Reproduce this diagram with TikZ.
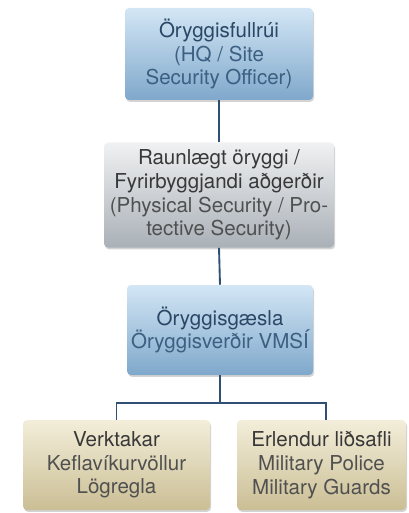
\documentclass[tikz,border=0pt]{standalone}
\usepackage{fontspec}
\setmainfont{TeX Gyre Heros}
\usetikzlibrary{shadows,calc}
\definecolor{lineblue}{HTML}{2F4F75}
\definecolor{bluetop}{HTML}{D3E6F5}
\definecolor{bluebot}{HTML}{7FA8CB}
\definecolor{greytop}{HTML}{F0F1F2}
\definecolor{greybot}{HTML}{A9B0B7}
\definecolor{beigetop}{HTML}{F3EEDA}
\definecolor{beigebot}{HTML}{CABE94}
\definecolor{bluetext}{HTML}{2A4866}
\definecolor{bluetextb}{HTML}{3C5F82}
\definecolor{greytext}{HTML}{383838}
\definecolor{greytextb}{HTML}{505050}
\tikzset{
  orgbox/.style={rectangle, rounded corners=3pt, align=center, inner sep=0pt,
    font=\fontsize{15.4}{17.8}\selectfont,
    drop shadow={opacity=0.35, shadow xshift=0.8pt, shadow yshift=-1.4pt}},
  bluebox/.style={orgbox, top color=bluetop, bottom color=bluebot, text=bluetext},
  greybox/.style={orgbox, top color=greytop, bottom color=greybot, text=greytext},
  beigebox/.style={orgbox, top color=beigetop, bottom color=beigebot, text=greytext},
  conn/.style={draw=lineblue, line width=1.4pt}
}
\begin{document}
\begin{tikzpicture}[x=0.75pt, y=-0.75pt]
\useasboundingbox (0,0) rectangle (408,513);
\node[bluebox, minimum width=188*0.75pt, minimum height=92*0.75pt] (b1) at (219,54)
  {Öryggisfullrúi\\\textcolor{bluetextb}{(HQ / Site}\\\textcolor{bluetextb}{Security Officer)}};
\node[greybox, minimum width=230*0.75pt, minimum height=105*0.75pt] (b2) at (219,195)
  {Raunlægt öryggi /\\Fyrirbyggjandi aðgerðir\\\textcolor{greytextb}{(Physical Security / Pro-}\\\textcolor{greytextb}{tective Security)}};
\node[bluebox, minimum width=186*0.75pt, minimum height=90*0.75pt] (b3) at (220,330)
  {Öryggisgæsla\\\textcolor{bluetextb}{Öryggisverðir VMSÍ}};
\node[beigebox, minimum width=187*0.75pt, minimum height=90*0.75pt] (b4) at (116.5,465)
  {Verktakar\\\textcolor{greytextb}{Keflavíkurvöllur}\\\textcolor{greytextb}{Lögregla}};
\node[beigebox, minimum width=169*0.75pt, minimum height=90*0.75pt] (b5) at (321.5,465)
  {Erlendur liðsafli\\\textcolor{greytextb}{Military Police}\\\textcolor{greytextb}{Military Guards}};
\coordinate (j) at (220,403);
\coordinate (j5) at ($(b5.north)+(4.5,0)$);
\draw[conn] (b1.south) -- (b2.north);
\draw[conn] (b2.south) -- (b3.north);
\draw[conn] (b3.south) -- (j);
\draw[conn] (j) -| (b4.north);
\draw[conn] (j) -| (j5);
\end{tikzpicture}
\end{document}
